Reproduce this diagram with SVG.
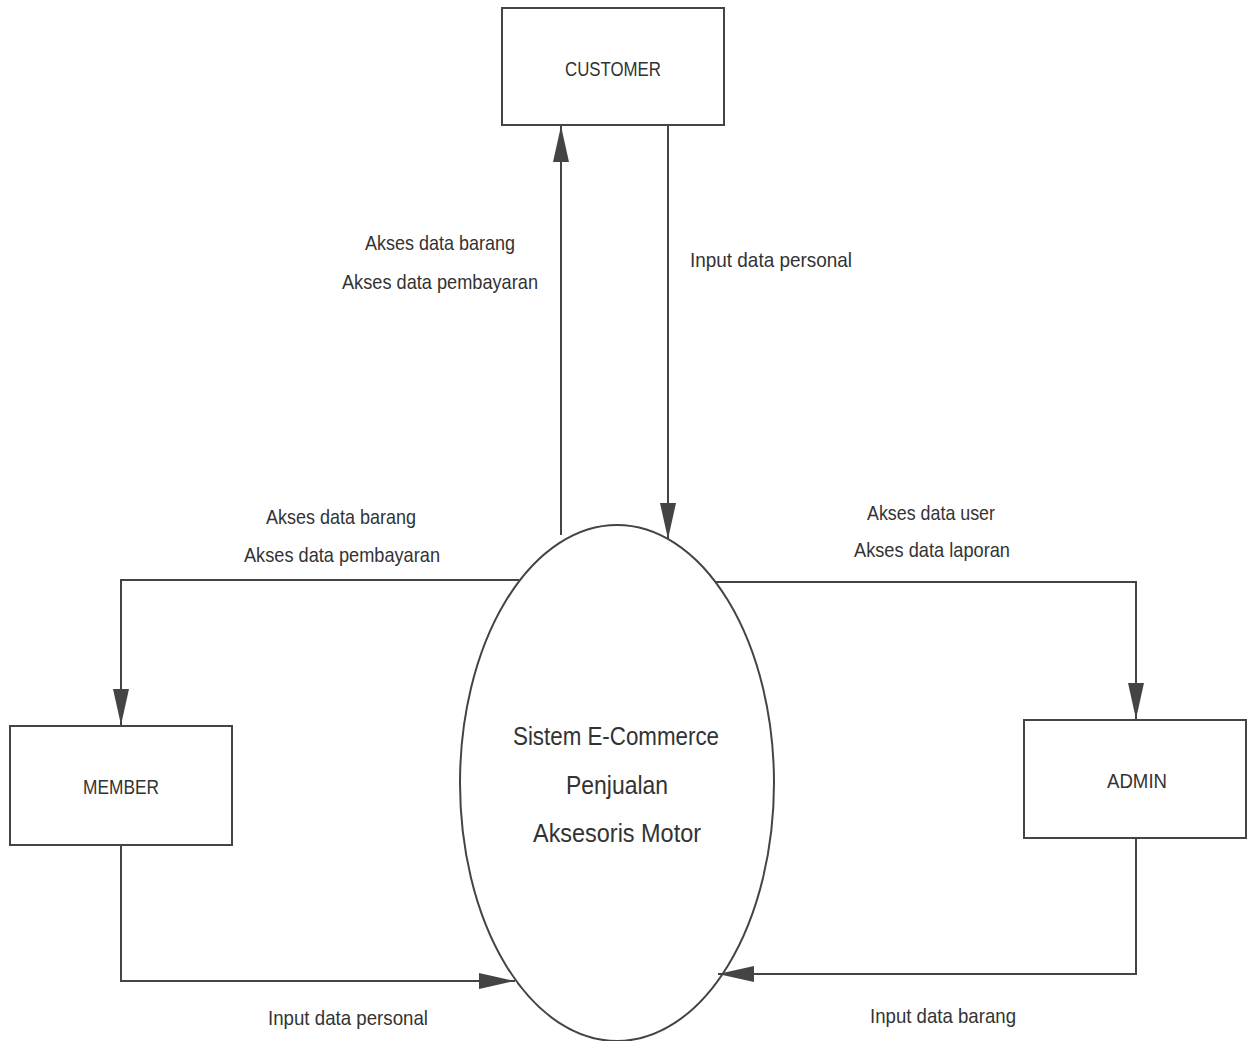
<svg xmlns="http://www.w3.org/2000/svg" width="1248" height="1041" viewBox="0 0 1248 1041">
<style>
.box{fill:#fff;stroke:#444;stroke-width:2}
.ln{fill:none;stroke:#444;stroke-width:2}
text{font-family:"Liberation Sans",Arial,sans-serif;fill:#333;text-anchor:middle}
.lbl{font-size:21px}
.nm{font-size:21px}
.pr{font-size:25px}
</style>
<defs>
<marker id="ahl" markerWidth="36" markerHeight="16" refX="36" refY="8" orient="auto" markerUnits="userSpaceOnUse" viewBox="0 0 36 16">
<path d="M0,0 L36,8 L0,16 z" fill="#444"/>
</marker>
</defs>
<rect width="1248" height="1041" fill="#fff"/>
<g id="connectors">
<path class="ln" d="M561,535 L561,126" marker-end="url(#ahl)"/>
<path class="ln" d="M668,126 L668,539" marker-end="url(#ahl)"/>
<path class="ln" d="M519,580 L121,580 L121,725" marker-end="url(#ahl)"/>
<path class="ln" d="M121,845 L121,981 L515,981" marker-end="url(#ahl)"/>
<path class="ln" d="M716,582 L1136,582 L1136,719" marker-end="url(#ahl)"/>
<path class="ln" d="M1136,838 L1136,974 L718,974" marker-end="url(#ahl)"/>
<text class="lbl" x="440" y="250" textLength="150" lengthAdjust="spacingAndGlyphs">Akses data barang</text>
<text class="lbl" x="440" y="289" textLength="196" lengthAdjust="spacingAndGlyphs">Akses data pembayaran</text>
<text class="lbl" x="771" y="267" textLength="162" lengthAdjust="spacingAndGlyphs">Input data personal</text>
<text class="lbl" x="341" y="524" textLength="150" lengthAdjust="spacingAndGlyphs">Akses data barang</text>
<text class="lbl" x="342" y="562" textLength="196" lengthAdjust="spacingAndGlyphs">Akses data pembayaran</text>
<text class="lbl" x="931" y="520" textLength="128" lengthAdjust="spacingAndGlyphs">Akses data user</text>
<text class="lbl" x="932" y="557" textLength="156" lengthAdjust="spacingAndGlyphs">Akses data laporan</text>
<text class="lbl" x="348" y="1025" textLength="160" lengthAdjust="spacingAndGlyphs">Input data personal</text>
<text class="lbl" x="943" y="1023" textLength="146" lengthAdjust="spacingAndGlyphs">Input data barang</text>
</g>
<g id="customer">
<rect class="box" x="502" y="8" width="222" height="117"/>
<text class="nm" x="613" y="76" textLength="96" lengthAdjust="spacingAndGlyphs">CUSTOMER</text>
</g>
<g id="member">
<rect class="box" x="10" y="726" width="222" height="119"/>
<text class="nm" x="121" y="794" textLength="76" lengthAdjust="spacingAndGlyphs">MEMBER</text>
</g>
<g id="admin">
<rect class="box" x="1024" y="720" width="222" height="118"/>
<text class="nm" x="1137" y="788" textLength="60" lengthAdjust="spacingAndGlyphs">ADMIN</text>
</g>
<g id="process">
<ellipse class="ln" cx="617" cy="783" rx="157" ry="258"/>
<text class="pr" x="616" y="745" textLength="206" lengthAdjust="spacingAndGlyphs">Sistem E-Commerce</text>
<text class="pr" x="617" y="794" textLength="102" lengthAdjust="spacingAndGlyphs">Penjualan</text>
<text class="pr" x="617" y="842" textLength="168" lengthAdjust="spacingAndGlyphs">Aksesoris Motor</text>
</g>
</svg>
